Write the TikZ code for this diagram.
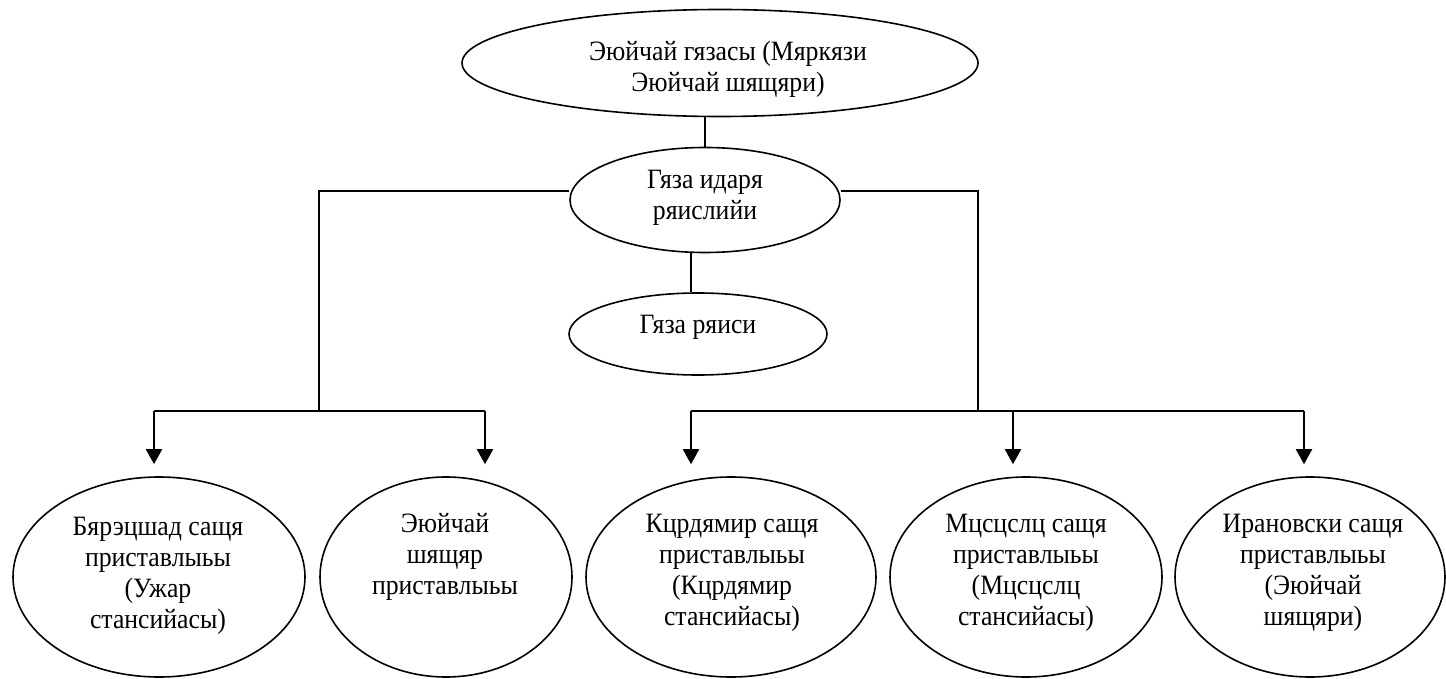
\documentclass[tikz,border=0pt]{standalone}
\usepackage{fontspec}
\setmainfont{Liberation Serif}[FakeStretch=0.92]
\usetikzlibrary{shapes.geometric,arrows.meta}
\begin{document}
\begin{tikzpicture}[x=0.5pt,y=-0.5pt,line width=1pt,
	oval/.style={draw,ellipse,line width=0.8pt,inner sep=0pt},
	txt/.style={align=center,inner sep=0pt,font=\fontsize{14pt}{15.5pt}\selectfont},
	arr/.style={-{Triangle[width=8pt,length=7.5pt]},shorten >=6pt}]
		\useasboundingbox (0,0) rectangle (1446,679);

		\node[oval,minimum width=258pt,minimum height=53.5pt] (goychay) at (720,63) {};
		\node[oval,minimum width=135pt,minimum height=52.5pt] (idare) at (705,200) {};
		\node[oval,minimum width=129pt,minimum height=41pt] (reis) at (698,334) {};
		\node[oval,minimum width=146pt,minimum height=100pt] (barg) at (159,577) {};
		\node[oval,minimum width=126pt,minimum height=100pt] (pristav) at (446,577) {};
		\node[oval,minimum width=145pt,minimum height=100pt] (kurd) at (731,577) {};
		\node[oval,minimum width=136pt,minimum height=100pt] (musus) at (1026,577) {};
		\node[oval,minimum width=135pt,minimum height=100pt] (iran) at (1310,577) {};

		\node[txt] (goychaytxt) at (728,69) {Эюйчай гязасы (Мяркязи\\Эюйчай шящяри)};
		\node[txt] (idaretxt) at (705,198) {Гяза идаря\\ряислийи};
		\node[txt] (reistxt) at (698,327) {Гяза ряиси};
		\node[txt] (bargtxt) at (158,576) {Бярэцшад сащя\\приставлыьы\\(Ужар\\стансийасы)};
		\node[txt] (pristavtxt) at (445,557) {Эюйчай\\шящяр\\приставлыьы};
		\node[txt] (kurdtxt) at (732,573) {Кцрдямир сащя\\приставлыьы\\(Кцрдямир\\стансийасы)};
		\node[txt] (mususxt) at (1026,573) {Мцсцслц сащя\\приставлыьы\\(Мцсцслц\\стансийасы)};
		\node[txt] (irantxt) at (1313,573) {Ирановски сащя\\приставлыьы\\(Эюйчай\\шящяри)};

		\coordinate (lup) at (319,191);
		\coordinate (rup) at (978,191);
		\coordinate (d1) at (154,411);
		\coordinate (d2) at (485,411);
		\coordinate (d3) at (691,411);
		\coordinate (d4) at (1013,411);
		\coordinate (d5) at (1304,411);

		\draw (idare.north) -- (idare.north |- goychay.south);
		\draw (d3 |- idare.south) -- (d3 |- reis.north);
		\draw (lup -| idare.west) -- (lup) -- (lup |- d1);
		\draw (rup -| idare.east) -- (rup) -- (rup |- d3);
		\draw (d1) -- (d2);
		\draw (d3) -- (d5);
		\draw[arr] (d1) -- (d1 |- barg.north);
		\draw[arr] (d2) -- (d2 |- pristav.north);
		\draw[arr] (d3) -- (d3 |- kurd.north);
		\draw[arr] (d4) -- (d4 |- musus.north);
		\draw[arr] (d5) -- (d5 |- iran.north);
	\end{tikzpicture}
\end{document}
